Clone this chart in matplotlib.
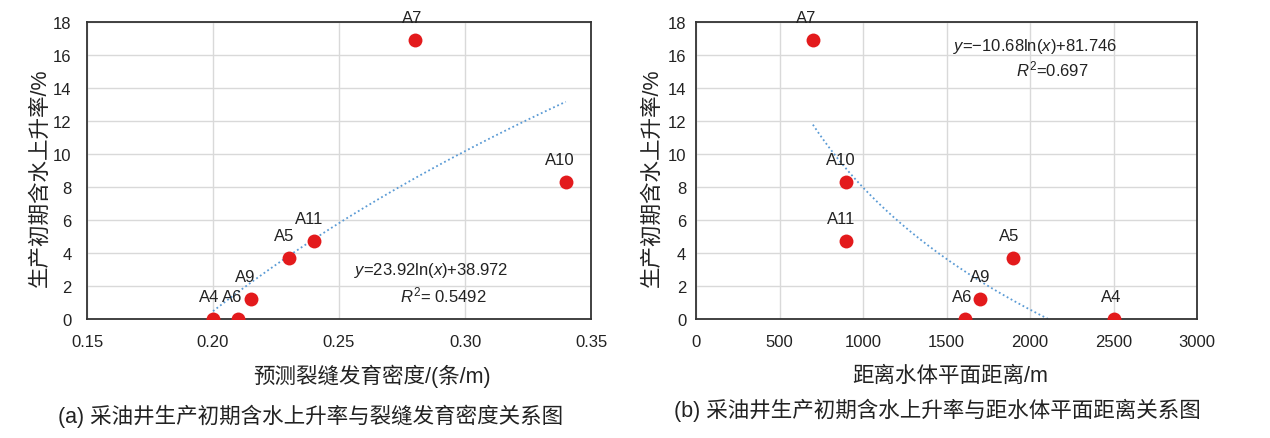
import numpy as np
import matplotlib
matplotlib.use("Agg")
import matplotlib.pyplot as plt

plt.rcParams['font.family'] = ['Liberation Sans', 'Noto Sans CJK SC', 'DejaVu Sans']
plt.rcParams['mathtext.fontset'] = 'custom'
plt.rcParams['mathtext.rm'] = 'Liberation Sans'
plt.rcParams['mathtext.it'] = 'Liberation Sans:italic'

# ---- data ----
wells = ['A4', 'A6', 'A9', 'A5', 'A11', 'A7', 'A10']
crack_density = [0.20, 0.21, 0.215, 0.23, 0.24, 0.28, 0.34]
water_rise_a = [0.0, 0.0, 1.2, 3.7, 4.7, 16.9, 8.3]

dist_water = [2500, 1610, 1700, 1900, 900, 700, 900]
water_rise_b = [0.0, 0.0, 1.2, 3.7, 4.7, 16.9, 8.3]

fit_a = (23.92, 38.972)   # y = a*ln(x)+b
fit_b = (-10.68, 81.746)

xticks_a = [0.15, 0.20, 0.25, 0.30, 0.35]
xticks_b = [0, 500, 1000, 1500, 2000, 2500, 3000]
yticks = [0, 2, 4, 6, 8, 10, 12, 14, 16, 18]

RED = '#e31a1c'
BLUE = '#5b9bd5'
GRID = '#d9d9d9'
TXT = '#222222'

fig = plt.figure(figsize=(12.7, 4.39), dpi=100)
ax1 = fig.add_axes([87/1270, 1-320/439, (591-87)/1270, (320-23)/439])
ax2 = fig.add_axes([696/1270, 1-320/439, (1197-696)/1270, (320-23)/439])


def style(ax, xt, xlim, ypad):
    ax.set_xlim(*xlim)
    ax.set_ylim(0, 18)
    ax.set_xticks(xt)
    ax.set_yticks(yticks)
    ax.grid(True, color=GRID, linewidth=1.0)
    ax.set_axisbelow(True)
    for s in ax.spines.values():
        s.set_color('#333333')
        s.set_linewidth(1.3)
    ax.tick_params(axis='both', length=0, labelsize=12, colors=TXT)
    ax.tick_params(axis='x', pad=11)
    ax.tick_params(axis='y', pad=ypad)


style(ax1, xticks_a, (0.15, 0.35), 11)
ax1.set_xticklabels([f'{v:.2f}' for v in xticks_a])
style(ax2, xticks_b, (0, 3000), 7)

# trendlines
xa = np.linspace(min(crack_density), max(crack_density), 200)
ax1.plot(xa, fit_a[0]*np.log(xa)+fit_a[1], linestyle=(0, (1, 1.5)), color=BLUE, linewidth=1.3, zorder=2)
xb = np.linspace(min(dist_water), 2150, 300)
yb = fit_b[0]*np.log(xb)+fit_b[1]
m = yb >= 0
ax2.plot(xb[m], yb[m], linestyle=(0, (1, 1.5)), color=BLUE, linewidth=1.3, zorder=2)

ax1.scatter(crack_density, water_rise_a, s=100, color=RED, zorder=3, linewidths=0)
ax2.scatter(dist_water, water_rise_b, s=100, color=RED, zorder=3, linewidths=0)

dx_a = {'A4': -3, 'A6': -4, 'A9': -4, 'A5': -3, 'A11': -3, 'A7': -2, 'A10': -4}
dx_b = {'A4': -2, 'A6': -2, 'A9': 0, 'A5': -3, 'A11': -4, 'A7': -5, 'A10': -4}
for w, x, y in zip(wells, crack_density, water_rise_a):
    ax1.annotate(w, (x, y), xytext=(dx_a[w], 16.5), textcoords='offset points',
                 ha='center', va='center', fontsize=12, color=TXT, annotation_clip=False)
for w, x, y in zip(wells, dist_water, water_rise_b):
    ax2.annotate(w, (x, y), xytext=(dx_b[w], 16.5), textcoords='offset points',
                 ha='center', va='center', fontsize=12, color=TXT, annotation_clip=False)

# equations
fig.text(431/1270, 1-270/439, r'$\it{y}$=23.92ln($\it{x}$)+38.972', ha='center', va='center', fontsize=12, color=TXT)
fig.text(443/1270, 1-295/439, r'$\it{R}^{2}$= 0.5492', ha='center', va='center', fontsize=12, color=TXT)
fig.text(1035/1270, 1-46/439, r'$\it{y}$=−10.68ln($\it{x}$)+81.746', ha='center', va='center', fontsize=12, color=TXT)
fig.text(1052/1270, 1-69/439, r'$\it{R}^{2}$=0.697', ha='center', va='center', fontsize=12, color=TXT)

# axis labels
fig.text(372/1270, 1-376/439, '预测裂缝发育密度/(条/m)', ha='center', va='center', fontsize=15.5, color=TXT)
fig.text(950/1270, 1-376/439, '距离水体平面距离/m', ha='center', va='center', fontsize=15.5, color=TXT)
fig.text(40/1270, 1-178/439, '生产初期含水上升率/%', ha='center', va='center', rotation=90, fontsize=15.5, color=TXT)
fig.text(652/1270, 1-178/439, '生产初期含水上升率/%', ha='center', va='center', rotation=90, fontsize=15.5, color=TXT)

# captions
fig.text(311/1270, 1-416/439, '(a) 采油井生产初期含水上升率与裂缝发育密度关系图', ha='center', va='center', fontsize=15.5, color=TXT)
fig.text(937/1270, 1-410/439, '(b) 采油井生产初期含水上升率与距水体平面距离关系图', ha='center', va='center', fontsize=15.5, color=TXT)

fig.savefig('out.png', dpi=100)
